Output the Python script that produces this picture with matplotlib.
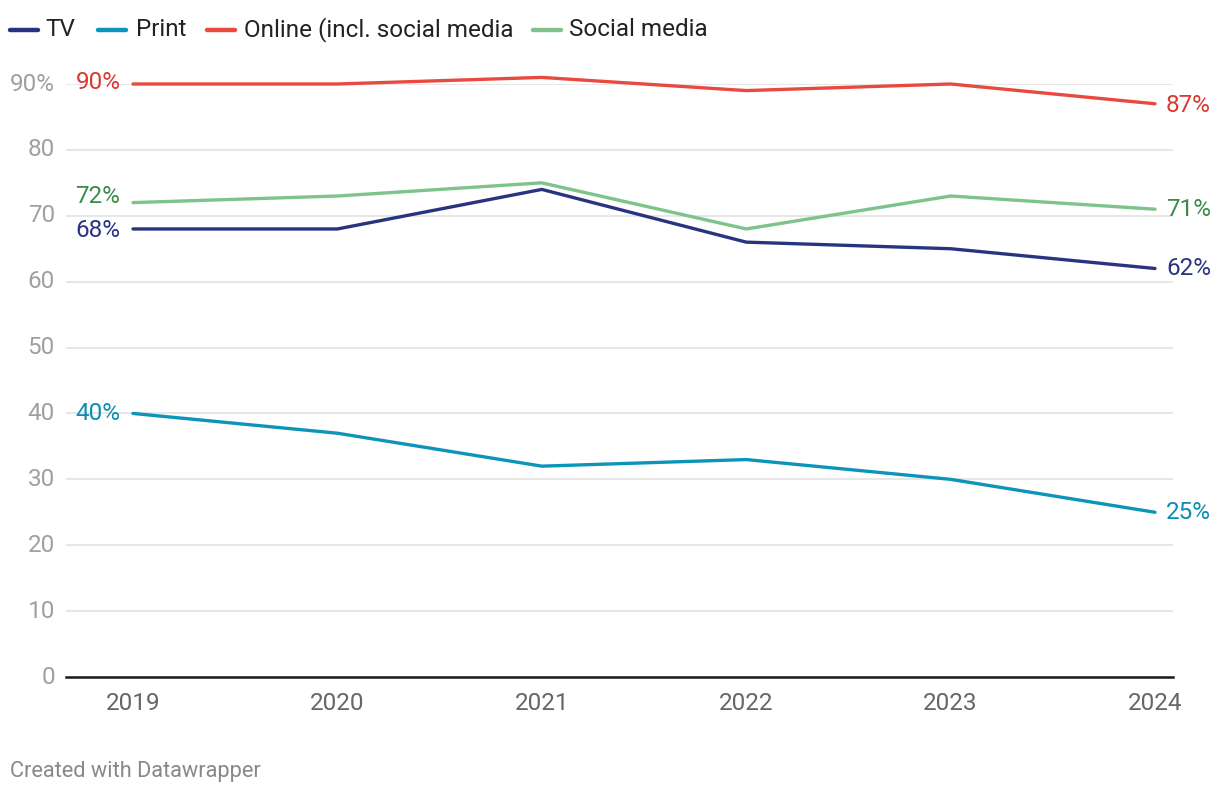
import matplotlib.pyplot as plt
from matplotlib.lines import Line2D

plt.rcParams['font.family'] = ['Roboto', 'DejaVu Sans']

years = [2019, 2020, 2021, 2022, 2023, 2024]
tv = [68, 68, 74, 66, 65, 62]
printed = [40, 37, 32, 33, 30, 25]
online = [90, 90, 91, 89, 90, 87]
social = [72, 73, 75, 68, 73, 71]

names = ['TV', 'Print', 'Online (incl. social media', 'Social media']
series = [tv, printed, online, social]
colors = ['#283480', '#0d94b9', '#e84a3f', '#7dc38a']
label_colors = ['#283480', '#0d8db0', '#d83a30', '#3d8a4a']
# small vertical nudges (data units) so labels don't collide
start_nudge = [-0.3, 0, 0.3, 0.9]
end_nudge = [0, 0, -0.2, 0]

yticks = [0, 10, 20, 30, 40, 50, 60, 70, 80, 90]
ytick_labels = ['0', '10', '20', '30', '40', '50', '60', '70', '80', '90%']

fig = plt.figure(figsize=(12.2, 7.94), dpi=100)
ax = fig.add_axes([66/1220, 1-677/794, 1107/1220, 593/794])

for vals, c in zip(series, colors):
    ax.plot(years, vals, color=c, lw=2.4, solid_capstyle='round', zorder=3, clip_on=False)

for vals, c, n1, n2 in zip(series, label_colors, start_nudge, end_nudge):
    ax.annotate(f'{vals[0]}%', (years[0], vals[0] + n1), xytext=(-9, 0), textcoords='offset points',
                ha='right', va='center', color=c, fontsize=17.5, annotation_clip=False)
    ax.annotate(f'{vals[-1]}%', (years[-1], vals[-1] + n2), xytext=(8, 0), textcoords='offset points',
                ha='left', va='center', color=c, fontsize=17.5, annotation_clip=False)

ax.set_xlim(2019 - 67/204.4, 2024 + 18/204.4)
ax.set_ylim(0, 90)
ax.set_yticks(yticks)
ax.set_yticklabels(ytick_labels)
ax.set_xticks(years)
ax.set_xticklabels([str(y) for y in years])
ax.tick_params(axis='y', length=0, pad=8, labelsize=17.5, labelcolor='#a0a0a0')
ax.tick_params(axis='x', length=0, pad=11, labelsize=17.5, labelcolor='#666666')
for lab in ax.get_yticklabels():
    lab.set_verticalalignment('center')
ax.grid(axis='y', color='#e3e3e3', lw=1.2)
ax.set_axisbelow(True)
for s in ax.spines.values():
    s.set_visible(False)
ax.axhline(0, color='#1a1a1a', lw=1.8, zorder=2, clip_on=False)

# legend row on top
legend_x = [10, 98, 207, 533]
text_x = [45, 136, 244, 569]
for x0, tx, c, n in zip(legend_x, text_x, colors, names):
    fig.add_artist(Line2D([x0/1220, (x0+28)/1220], [1-30/794, 1-30/794], color=c, lw=3.2,
                          solid_capstyle='round'))
    fig.text(tx/1220, 1-30/794, n, ha='left', va='center', fontsize=17.5, color='#222222')

fig.text(10/1220, 1-771/794, 'Created with Datawrapper', ha='left', va='center',
         fontsize=15.7, color='#888888')

fig.savefig('out.png', dpi=100)
